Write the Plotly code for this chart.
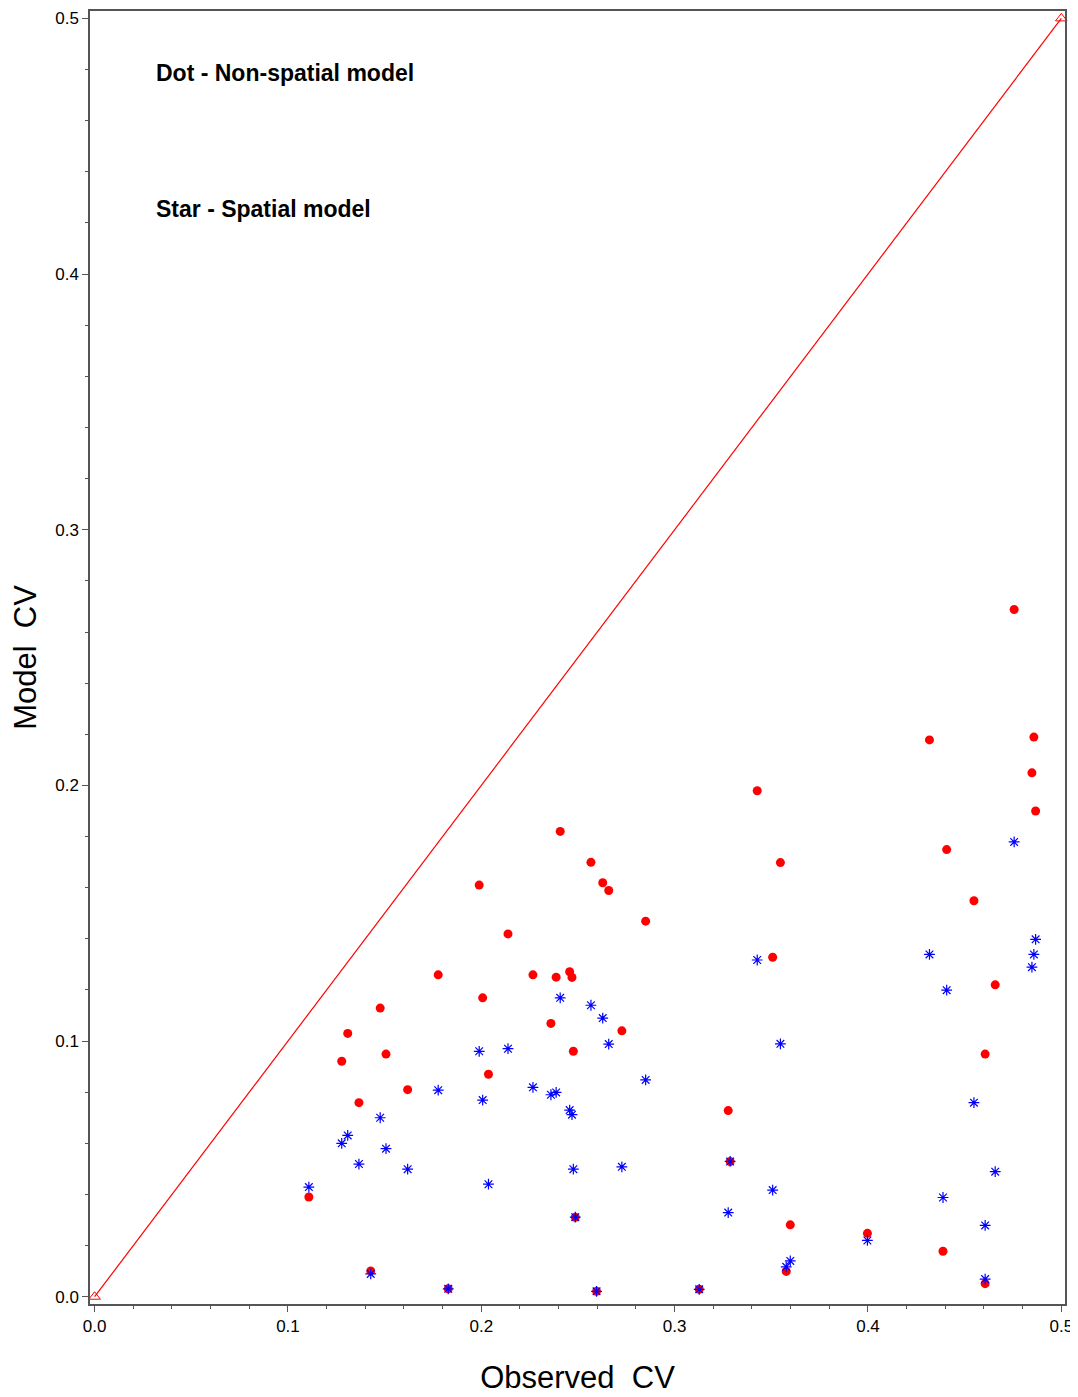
import plotly.graph_objects as go

# Observed CV (shared x for both models)
observed_cv = [0.1108, 0.1278, 0.1309, 0.1367, 0.1428, 0.1477, 0.1507, 0.1619,
               0.1777, 0.1829, 0.1989, 0.2007, 0.2037, 0.2138, 0.2267, 0.2360,
               0.2387, 0.2408, 0.2457, 0.2469, 0.2476, 0.2486, 0.2567, 0.2596,
               0.2628, 0.2659, 0.2727, 0.2850, 0.3127, 0.3277, 0.3287, 0.3427,
               0.3507, 0.3547, 0.3577, 0.3598, 0.3997, 0.4318, 0.4388, 0.4407,
               0.4548, 0.4606, 0.4606, 0.4658, 0.4756, 0.4848, 0.4858, 0.4867]

# Non-spatial model CV (red dots)
nonspatial_cv = [0.0390, 0.0921, 0.1030, 0.0759, 0.0101, 0.1129, 0.0949, 0.0810,
                 0.1259, 0.0031, 0.1610, 0.1169, 0.0870, 0.1419, 0.1259, 0.1069,
                 0.1250, 0.1820, 0.1271, 0.1249, 0.0960, 0.0311, 0.1699, 0.0021,
                 0.1619, 0.1589, 0.1040, 0.1469, 0.0029, 0.0728, 0.0529, 0.1979,
                 0.1328, 0.1698, 0.0099, 0.0281, 0.0248, 0.2178, 0.0178, 0.1749,
                 0.1549, 0.0051, 0.0949, 0.1220, 0.2688, 0.2049, 0.2189, 0.1900]

# Spatial model CV (blue stars)
spatial_cv = [0.0429, 0.0600, 0.0631, 0.0519, 0.0089, 0.0700, 0.0579, 0.0499,
              0.0808, 0.0031, 0.0960, 0.0769, 0.0440, 0.0970, 0.0819, 0.0790,
              0.0799, 0.1169, 0.0730, 0.0712, 0.0499, 0.0311, 0.1140, 0.0021,
              0.1090, 0.0988, 0.0508, 0.0848, 0.0029, 0.0329, 0.0529, 0.1317,
              0.0417, 0.0989, 0.0117, 0.0140, 0.0220, 0.1339, 0.0388, 0.1199,
              0.0759, 0.0069, 0.0279, 0.0489, 0.1779, 0.1289, 0.1339, 0.1398]

# Reference 1:1 line
ref_x = [0.0, 0.5]
ref_y = [0.0, 0.5]

tick_vals = [0.0, 0.1, 0.2, 0.3, 0.4, 0.5]
tick_text = ["0.0", "0.1", "0.2", "0.3", "0.4", "0.5"]

FONT = "Liberation Sans, Arial, sans-serif"

fig = go.Figure()

fig.add_trace(go.Scatter(
    x=ref_x, y=ref_y, mode="lines+markers",
    line=dict(color="#ff0000", width=1.2),
    marker=dict(symbol="triangle-up-open", size=10, color="#ff0000",
                line=dict(color="#ff0000", width=1)),
    showlegend=False, cliponaxis=False))

fig.add_trace(go.Scatter(
    x=observed_cv, y=nonspatial_cv, mode="markers",
    marker=dict(symbol="circle", size=9, color="#ff0000", line=dict(width=0)),
    showlegend=False, cliponaxis=False))

fig.add_trace(go.Scatter(
    x=observed_cv, y=spatial_cv, mode="markers",
    marker=dict(symbol="asterisk-open", size=9, color="#0000ff",
                line=dict(color="#0000ff", width=1.2)),
    showlegend=False, cliponaxis=False))

fig.add_annotation(x=0.0306, y=0.4785, xref="x", yref="y",
                   text="<b>Dot - Non-spatial model</b>", showarrow=False,
                   xanchor="left", yanchor="middle",
                   font=dict(family=FONT, size=23, color="black"))
fig.add_annotation(x=0.0306, y=0.4253, xref="x", yref="y",
                   text="<b>Star - Spatial model</b>", showarrow=False,
                   xanchor="left", yanchor="middle",
                   font=dict(family=FONT, size=23, color="black"))

axis_common = dict(
    showgrid=False, zeroline=False, automargin=False,
    showline=True, linecolor="#555555", linewidth=1.5, mirror=True,
    ticks="outside", ticklen=6, tickwidth=1, tickcolor="#555555",
    tickvals=tick_vals, ticktext=tick_text,
    tickfont=dict(family=FONT, size=17, color="black"),
    minor=dict(dtick=0.02, tick0=0, ticks="outside", ticklen=3,
               tickwidth=1, tickcolor="#555555", showgrid=False),
)

# The page body has an 8px margin, so the figure is offset by (8, 8).
fig.update_layout(
    width=1070, height=1389,
    margin=dict(l=82, r=13, t=3, b=93),
    paper_bgcolor="white", plot_bgcolor="white",
    font=dict(family=FONT, color="black"),
    xaxis=dict(range=[-0.0024, 0.5019],
               title=dict(text="Observed\u00a0 CV", standoff=31,
                          font=dict(family=FONT, size=31, color="black")),
               **axis_common),
    yaxis=dict(range=[-0.00285, 0.5029],
               title=dict(text="Model\u00a0 CV", standoff=10,
                          font=dict(family=FONT, size=31, color="black")),
               **axis_common),
)

fig.write_html("out.html")
